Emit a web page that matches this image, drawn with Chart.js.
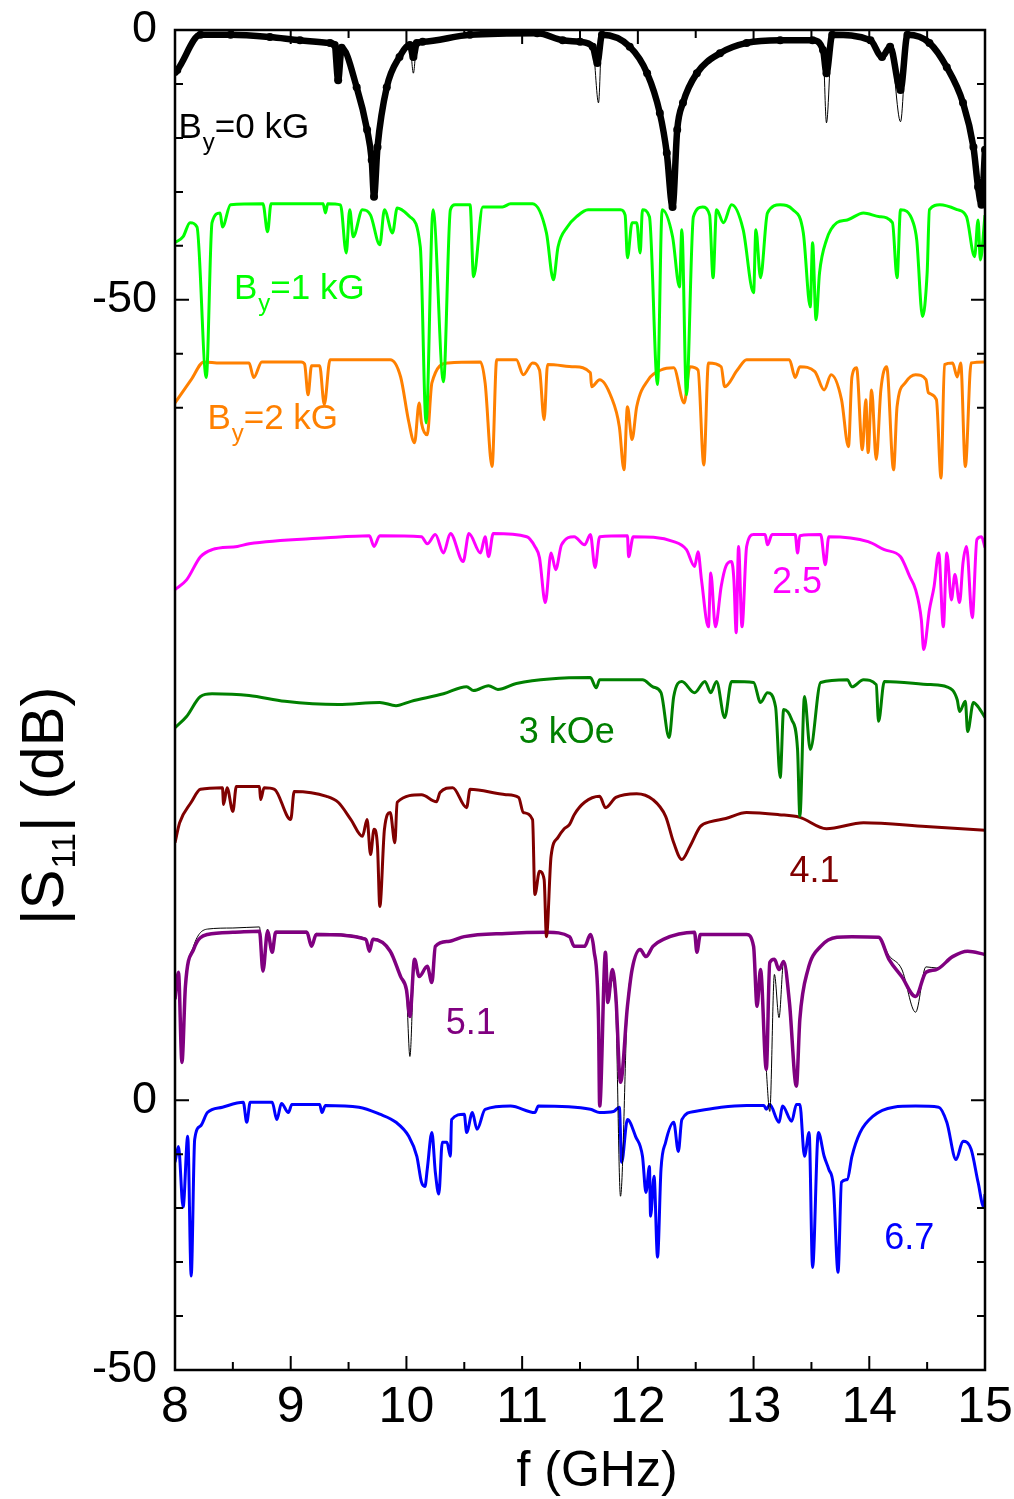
<!DOCTYPE html>
<html>
<head>
<meta charset="utf-8">
<title>|S11| spectra vs field</title>
<script src="https://cdn.jsdelivr.net/npm/chart.js@4.4.1/dist/chart.umd.min.js"></script>
<style>
  html, body { margin: 0; padding: 0; background: #fff; }
  #wrap { width: 1014px; height: 1499px; }
</style>
</head>
<body>
<div id="wrap"><canvas id="s11Chart" width="1014" height="1499"></canvas></div>
<script>
// x axis: frequency in GHz
const xMin = 8, xMax = 15;
const xTickVals = [8, 9, 10, 11, 12, 13, 14, 15];
const xMinorVals = [8.5, 9.5, 10.5, 11.5, 12.5, 13.5, 14.5];

// y axis: two stacked panels share one scale (lower panel's 0 sits at -198.3)
const yMin = -248.3, yMax = 0;
const yTickVals = [0, -50, -198.3, -248.3];
const yTickLabels = ["0", "-50", "0", "-50"];
const yMinorVals = [-10, -20, -30, -40, -60, -70, -208.3, -218.3, -228.3, -238.3];

// series, [f (GHz), |S11| as plotted (dB)]
const by0Thick = [[8.00,-7.8],[8.02,-7.4],[8.22,-0.9],[8.48,-0.9],[8.82,-1.3],[9.08,-1.9],[9.34,-2.4],[9.38,-2.8],[9.41,-9.3],[9.44,-3.3],[9.57,-10.6],[9.66,-18.5],[9.70,-24.1],[9.72,-30.9],[9.75,-21.7],[9.83,-10.6],[9.94,-5.0],[10.03,-2.8],[10.06,-5.0],[10.09,-2.4],[10.14,-2.2],[10.55,-0.9],[11.13,-0.6],[11.35,-1.9],[11.50,-2.2],[11.61,-3.1],[11.65,-6.1],[11.69,-0.9],[11.93,-3.1],[12.08,-8.0],[12.19,-15.4],[12.25,-22.8],[12.30,-32.8],[12.34,-18.5],[12.39,-13.5],[12.51,-8.0],[12.71,-4.3],[12.94,-2.4],[13.23,-1.9],[13.51,-1.9],[13.60,-3.7],[13.63,-8.0],[13.68,-0.9],[14.01,-1.9],[14.11,-5.0],[14.18,-3.1],[14.27,-11.1],[14.33,-0.9],[14.52,-2.4],[14.67,-6.9],[14.81,-13.5],[14.90,-21.7],[14.94,-29.1],[14.97,-32.4],[15.00,-22.2]];
const by0Thin = [[8.00,-7.8],[8.02,-7.4],[8.22,-0.9],[8.48,-0.9],[8.82,-1.3],[9.08,-1.9],[9.34,-2.4],[9.38,-2.8],[9.41,-9.3],[9.44,-3.3],[9.57,-10.6],[9.66,-18.5],[9.70,-24.1],[9.72,-30.9],[9.75,-21.7],[9.83,-10.6],[9.94,-5.0],[10.03,-2.8],[10.06,-8.0],[10.09,-2.4],[10.14,-2.2],[10.55,-0.9],[11.13,-0.6],[11.35,-1.9],[11.50,-2.2],[11.61,-3.1],[11.66,-13.5],[11.69,-0.9],[11.93,-3.1],[12.08,-8.0],[12.19,-15.4],[12.25,-22.8],[12.30,-32.8],[12.34,-18.5],[12.39,-13.5],[12.51,-8.0],[12.71,-4.3],[12.94,-2.4],[13.23,-1.9],[13.51,-1.9],[13.60,-3.7],[13.63,-17.2],[13.68,-0.9],[14.01,-1.9],[14.11,-5.0],[14.18,-3.1],[14.27,-17.0],[14.33,-0.9],[14.52,-2.4],[14.67,-6.9],[14.81,-13.5],[14.90,-21.7],[14.94,-29.1],[14.97,-32.4],[15.00,-22.2]];
const by1 = [[8.00,-39.4],[8.07,-38.3],[8.13,-35.7],[8.19,-36.5],[8.27,-64.4],[8.32,-35.7],[8.39,-33.9],[8.41,-36.5],[8.48,-32.4],[8.76,-32.2],[8.80,-37.4],[8.83,-32.2],[9.28,-32.2],[9.30,-33.9],[9.32,-32.2],[9.43,-32.4],[9.48,-41.3],[9.51,-33.3],[9.54,-38.3],[9.62,-33.3],[9.69,-34.3],[9.77,-39.8],[9.81,-33.3],[9.88,-37.6],[9.92,-33.0],[10.03,-34.6],[10.12,-40.2],[10.17,-72.8],[10.23,-33.3],[10.32,-65.2],[10.38,-33.3],[10.42,-32.4],[10.55,-32.4],[10.58,-45.7],[10.66,-32.8],[10.83,-32.8],[10.90,-32.2],[11.09,-32.2],[11.21,-37.6],[11.27,-46.3],[11.31,-40.2],[11.39,-36.5],[11.47,-34.6],[11.57,-33.3],[11.67,-33.3],[11.85,-33.3],[11.89,-34.3],[11.91,-42.2],[11.95,-35.7],[11.99,-35.7],[12.02,-41.3],[12.04,-33.3],[12.10,-34.6],[12.17,-65.7],[12.21,-33.3],[12.30,-38.3],[12.36,-47.6],[12.38,-37.0],[12.42,-67.6],[12.48,-34.6],[12.56,-32.8],[12.62,-34.3],[12.65,-45.9],[12.68,-33.3],[12.74,-35.7],[12.81,-32.4],[12.91,-37.0],[13.00,-48.7],[13.02,-37.0],[13.06,-45.9],[13.12,-33.9],[13.23,-32.4],[13.34,-33.3],[13.43,-37.6],[13.49,-51.3],[13.51,-39.4],[13.54,-53.7],[13.57,-45.0],[13.63,-38.9],[13.72,-35.7],[13.81,-35.2],[13.95,-33.9],[14.09,-34.6],[14.20,-35.7],[14.24,-45.9],[14.27,-33.3],[14.38,-35.7],[14.41,-38.9],[14.46,-53.1],[14.50,-45.0],[14.52,-33.3],[14.61,-32.4],[14.76,-33.3],[14.84,-34.6],[14.91,-42.0],[14.94,-35.2],[14.96,-42.6],[15.00,-34.3]];
const by2 = [[8.00,-69.1],[8.14,-64.8],[8.25,-61.5],[8.39,-61.7],[8.64,-61.7],[8.68,-64.4],[8.75,-61.5],[9.09,-61.5],[9.12,-61.9],[9.15,-67.6],[9.18,-62.2],[9.25,-62.2],[9.29,-69.4],[9.34,-61.1],[9.86,-61.1],[9.95,-64.3],[10.02,-72.6],[10.07,-76.5],[10.11,-69.1],[10.13,-72.8],[10.18,-75.0],[10.22,-65.4],[10.36,-61.7],[10.64,-61.5],[10.68,-65.4],[10.74,-80.9],[10.78,-61.1],[10.95,-61.1],[11.01,-63.9],[11.09,-61.7],[11.15,-63.0],[11.19,-72.2],[11.22,-62.0],[11.45,-62.4],[11.59,-63.5],[11.60,-66.1],[11.67,-64.8],[11.77,-68.0],[11.84,-73.5],[11.88,-81.5],[11.91,-69.8],[11.95,-75.9],[11.99,-69.8],[12.09,-64.8],[12.20,-63.0],[12.31,-62.6],[12.40,-69.1],[12.45,-62.4],[12.52,-63.0],[12.57,-80.6],[12.61,-61.7],[12.72,-62.4],[12.75,-66.1],[12.86,-63.0],[12.94,-61.1],[13.31,-61.1],[13.36,-64.4],[13.40,-62.4],[13.53,-63.3],[13.61,-66.7],[13.67,-63.9],[13.76,-68.5],[13.82,-77.2],[13.85,-64.3],[13.89,-62.6],[13.94,-77.8],[13.97,-68.5],[13.99,-78.3],[14.02,-66.7],[14.06,-79.6],[14.10,-66.7],[14.15,-62.4],[14.21,-81.5],[14.24,-69.8],[14.31,-65.4],[14.40,-63.9],[14.49,-64.8],[14.51,-67.2],[14.58,-68.5],[14.62,-83.0],[14.65,-62.0],[14.72,-61.7],[14.76,-64.3],[14.79,-61.7],[14.83,-80.9],[14.88,-61.7],[15.00,-61.5]];
const by25 = [[8.00,-103.7],[8.10,-101.9],[8.22,-97.6],[8.32,-96.3],[8.54,-95.7],[8.64,-95.2],[9.31,-94.1],[9.68,-93.7],[9.72,-95.7],[9.77,-93.7],[10.13,-93.9],[10.18,-95.2],[10.25,-93.5],[10.32,-96.9],[10.38,-93.3],[10.49,-98.5],[10.54,-93.3],[10.64,-96.9],[10.68,-93.9],[10.71,-97.6],[10.75,-93.3],[11.04,-93.9],[11.11,-95.7],[11.15,-97.8],[11.20,-106.1],[11.25,-96.9],[11.29,-100.0],[11.34,-95.4],[11.45,-93.9],[11.54,-95.4],[11.59,-93.5],[11.63,-99.6],[11.67,-93.9],[11.91,-93.7],[11.92,-97.6],[11.96,-93.9],[12.31,-94.8],[12.42,-96.3],[12.49,-99.4],[12.52,-96.7],[12.55,-101.9],[12.61,-110.6],[12.63,-100.6],[12.67,-110.6],[12.72,-103.1],[12.76,-99.4],[12.81,-98.5],[12.83,-101.9],[12.85,-111.7],[12.87,-95.7],[12.90,-110.6],[12.94,-95.7],[13.00,-93.5],[13.10,-93.5],[13.12,-95.4],[13.16,-93.5],[13.36,-93.5],[13.38,-96.9],[13.40,-93.7],[13.58,-93.5],[13.62,-99.1],[13.65,-93.9],[13.99,-94.8],[14.13,-96.3],[14.27,-97.6],[14.35,-101.3],[14.40,-103.7],[14.45,-109.3],[14.47,-114.8],[14.52,-107.4],[14.56,-103.1],[14.60,-96.9],[14.64,-110.6],[14.67,-96.9],[14.71,-105.6],[14.74,-100.9],[14.78,-106.1],[14.81,-98.7],[14.84,-95.7],[14.89,-108.9],[14.93,-94.4],[14.97,-93.9],[15.00,-95.9]];
const by3 = [[8.00,-129.3],[8.10,-127.2],[8.22,-123.5],[8.32,-123.0],[8.64,-123.3],[8.95,-124.4],[9.41,-125.0],[9.77,-124.6],[9.91,-125.2],[10.04,-124.4],[10.32,-123.0],[10.52,-121.7],[10.58,-122.4],[10.71,-121.5],[10.79,-122.2],[10.95,-121.1],[11.59,-120.0],[11.64,-121.9],[11.67,-120.4],[12.04,-120.4],[12.13,-121.7],[12.20,-122.8],[12.27,-131.1],[12.31,-123.5],[12.38,-120.7],[12.49,-122.8],[12.58,-120.7],[12.63,-122.8],[12.68,-120.7],[12.75,-127.4],[12.81,-120.7],[13.00,-120.9],[13.06,-124.6],[13.12,-122.8],[13.19,-125.4],[13.23,-138.5],[13.26,-125.9],[13.33,-127.8],[13.38,-133.3],[13.40,-145.7],[13.44,-123.5],[13.49,-133.3],[13.58,-120.9],[13.81,-120.4],[13.85,-121.7],[13.95,-120.4],[14.06,-121.3],[14.08,-128.1],[14.13,-120.7],[14.53,-121.3],[14.67,-121.7],[14.76,-124.1],[14.78,-126.3],[14.83,-124.4],[14.85,-130.0],[14.90,-124.6],[14.94,-125.4],[15.00,-127.4]];
const by41 = [[8.00,-150.6],[8.04,-146.9],[8.14,-143.1],[8.22,-140.7],[8.41,-140.4],[8.42,-143.5],[8.45,-140.4],[8.50,-144.8],[8.53,-140.2],[8.73,-140.2],[8.74,-142.6],[8.77,-140.4],[8.86,-140.7],[9.00,-146.3],[9.03,-141.1],[9.31,-142.0],[9.41,-143.1],[9.52,-146.3],[9.62,-149.4],[9.66,-146.3],[9.69,-152.8],[9.72,-148.1],[9.75,-151.3],[9.77,-162.4],[9.81,-148.1],[9.86,-145.0],[9.90,-150.6],[9.92,-143.1],[10.13,-141.7],[10.26,-143.0],[10.29,-141.3],[10.40,-140.4],[10.52,-144.1],[10.55,-140.7],[10.86,-141.7],[10.97,-142.2],[11.01,-145.0],[11.09,-146.3],[11.11,-160.2],[11.15,-155.9],[11.19,-157.4],[11.21,-168.0],[11.25,-153.1],[11.31,-149.6],[11.36,-148.1],[11.41,-147.2],[11.45,-145.4],[11.54,-143.1],[11.67,-142.0],[11.72,-144.1],[11.81,-142.2],[11.99,-141.5],[12.13,-142.6],[12.24,-145.7],[12.31,-150.6],[12.38,-153.7],[12.45,-151.3],[12.54,-147.6],[12.63,-146.7],[12.76,-146.1],[12.94,-145.0],[13.22,-145.4],[13.40,-145.9],[13.63,-148.0],[13.95,-146.9],[14.49,-147.6],[15.00,-148.3]];
const by51 = [[8.00,-179.6],[8.03,-174.6],[8.06,-191.3],[8.09,-177.2],[8.16,-170.4],[8.28,-167.6],[8.50,-167.2],[8.73,-167.0],[8.76,-174.4],[8.80,-167.0],[8.84,-170.9],[8.87,-167.2],[9.14,-167.2],[9.18,-169.8],[9.22,-167.6],[9.65,-168.5],[9.68,-170.7],[9.71,-168.5],[9.86,-170.7],[9.95,-175.4],[10.00,-177.8],[10.03,-182.8],[10.07,-172.2],[10.11,-175.4],[10.18,-173.5],[10.22,-176.5],[10.25,-169.8],[10.36,-168.9],[10.50,-168.0],[10.86,-167.4],[11.22,-167.2],[11.41,-168.0],[11.45,-169.8],[11.54,-169.8],[11.59,-167.6],[11.62,-170.4],[11.66,-183.3],[11.67,-199.4],[11.72,-170.9],[11.74,-180.2],[11.78,-174.1],[11.81,-179.1],[11.85,-195.0],[11.91,-180.9],[11.95,-174.1],[12.02,-170.4],[12.07,-171.7],[12.13,-169.8],[12.22,-168.5],[12.49,-167.2],[12.51,-170.9],[12.54,-167.6],[12.94,-167.6],[13.00,-169.8],[13.03,-180.9],[13.06,-174.1],[13.11,-192.6],[13.14,-172.8],[13.18,-172.2],[13.22,-174.1],[13.26,-172.6],[13.31,-180.2],[13.37,-195.7],[13.40,-183.3],[13.47,-174.1],[13.58,-169.8],[13.72,-168.1],[13.85,-168.0],[14.08,-168.1],[14.17,-172.2],[14.28,-175.4],[14.40,-179.1],[14.49,-174.6],[14.58,-174.1],[14.72,-171.7],[14.85,-170.7],[15.00,-171.3]];
const by51Ref = [[8.00,-179.6],[8.03,-174.6],[8.06,-191.3],[8.09,-177.2],[8.16,-169.8],[8.28,-166.6],[8.50,-166.4],[8.73,-166.2],[8.76,-174.4],[8.80,-166.6],[8.84,-170.9],[8.87,-167.0],[9.14,-167.0],[9.18,-169.8],[9.22,-167.4],[9.65,-168.3],[9.68,-170.7],[9.71,-168.3],[9.86,-170.7],[9.95,-175.4],[10.00,-178.5],[10.03,-190.2],[10.07,-172.2],[10.11,-175.4],[10.18,-173.5],[10.22,-176.5],[10.25,-169.8],[10.36,-168.9],[10.50,-168.0],[10.86,-167.4],[11.22,-167.2],[11.41,-168.0],[11.45,-169.8],[11.54,-169.8],[11.59,-167.6],[11.62,-170.4],[11.66,-183.3],[11.67,-199.4],[11.72,-172.0],[11.74,-180.2],[11.78,-176.0],[11.81,-182.0],[11.85,-216.1],[11.91,-180.9],[11.95,-174.1],[12.02,-170.4],[12.07,-171.7],[12.13,-169.8],[12.22,-168.5],[12.49,-167.2],[12.51,-170.9],[12.54,-167.6],[12.94,-167.6],[13.00,-169.8],[13.03,-180.9],[13.06,-174.1],[13.11,-192.6],[13.14,-200.4],[13.18,-175.0],[13.22,-183.0],[13.26,-172.6],[13.31,-180.2],[13.37,-195.7],[13.40,-183.3],[13.47,-174.1],[13.58,-169.8],[13.72,-168.1],[13.85,-168.0],[14.08,-168.1],[14.17,-171.5],[14.28,-174.0],[14.40,-182.0],[14.49,-173.6],[14.58,-173.8],[14.72,-171.7],[14.85,-170.7],[15.00,-171.3]];
const by67 = [[8.00,-209.8],[8.03,-206.9],[8.07,-218.1],[8.11,-205.0],[8.14,-230.9],[8.17,-205.6],[8.22,-203.1],[8.28,-200.6],[8.41,-199.6],[8.59,-198.7],[8.62,-202.4],[8.65,-198.7],[8.84,-198.7],[8.88,-201.9],[8.92,-198.9],[8.98,-200.6],[9.01,-199.1],[9.25,-199.1],[9.27,-200.6],[9.30,-199.3],[9.59,-199.6],[9.77,-200.9],[9.91,-202.4],[10.02,-205.0],[10.09,-208.7],[10.13,-213.5],[10.16,-214.3],[10.18,-211.1],[10.22,-204.3],[10.25,-211.7],[10.28,-215.7],[10.31,-206.1],[10.35,-206.1],[10.38,-208.7],[10.39,-201.9],[10.50,-200.9],[10.52,-204.3],[10.57,-200.6],[10.61,-203.7],[10.68,-200.0],[10.90,-199.4],[11.11,-200.6],[11.14,-199.4],[11.59,-200.0],[11.67,-200.6],[11.79,-200.4],[11.84,-199.6],[11.86,-209.8],[11.91,-201.9],[11.98,-205.0],[12.04,-208.7],[12.07,-215.4],[12.10,-210.6],[12.11,-219.8],[12.14,-212.4],[12.17,-227.4],[12.20,-211.1],[12.24,-206.1],[12.31,-202.4],[12.35,-207.8],[12.38,-201.9],[12.49,-200.4],[12.72,-199.6],[12.94,-199.3],[13.09,-199.3],[13.11,-200.0],[13.14,-199.1],[13.22,-202.4],[13.25,-199.4],[13.33,-202.2],[13.37,-199.1],[13.40,-199.1],[13.44,-208.7],[13.48,-204.3],[13.51,-229.3],[13.56,-204.3],[13.61,-208.7],[13.65,-211.1],[13.69,-214.3],[13.73,-230.2],[13.76,-213.5],[13.81,-213.0],[13.85,-208.7],[13.92,-204.3],[14.03,-201.3],[14.21,-199.6],[14.40,-199.4],[14.60,-199.6],[14.67,-202.4],[14.75,-209.3],[14.81,-205.9],[14.88,-207.4],[14.94,-213.5],[14.99,-218.1],[15.00,-215.7]];

// curve labels, anchored in data units (left edge, baseline)
const curveLabels = [
  { pre: "B", sub: "y", post: "=0 kG", f: 8.03, db: -20.0, color: "#000000" },
  { pre: "B", sub: "y", post: "=1 kG", f: 8.51, db: -49.8, color: "#00ff00" },
  { pre: "B", sub: "y", post: "=2 kG", f: 8.28, db: -73.9, color: "#ff8000" },
  { pre: "2.5", f: 13.16, db: -104.4, color: "#ff00ff" },
  { pre: "3 kOe", f: 10.97, db: -132.2, color: "#008000" },
  { pre: "4.1", f: 13.31, db: -157.8, color: "#800000" },
  { pre: "5.1", f: 10.34, db: -186.1, color: "#800080" },
  { pre: "6.7", f: 14.13, db: -225.9, color: "#0000ff" }
];

const FONT = '"Liberation Sans", Arial, sans-serif';

// first entry is drawn on top
const series = [
  { data: by0Thick, color: "#000000", width: 6.5, dots: true },
  { data: by0Thin, color: "#000000", width: 1 },
  { data: by1, color: "#00ff00", width: 3 },
  { data: by2, color: "#ff8000", width: 3 },
  { data: by25, color: "#ff00ff", width: 3 },
  { data: by3, color: "#008000", width: 3 },
  { data: by41, color: "#800000", width: 3 },
  { data: by51, color: "#800080", width: 3.5 },
  { data: by51Ref, color: "#000000", width: 1 },
  { data: by67, color: "#0000ff", width: 3 }
];

const datasets = series.map((s, i) => ({
  data: s.data.map(p => ({ x: p[0], y: p[1] })),
  borderColor: s.color,
  backgroundColor: s.color,
  borderWidth: s.width,
  pointRadius: s.dots ? 4 : 0,
  pointBorderWidth: 0,
  borderJoinStyle: "round",
  cubicInterpolationMode: "monotone",
  fill: false,
  order: i
}));

// tick labels must not push the plot area around
function noPad(s) {
  s.paddingTop = 0; s.paddingBottom = 0; s.paddingLeft = 0; s.paddingRight = 0;
}

// axis frame, inward ticks, titles and curve labels
const decor = {
  id: "decor",
  afterDatasetsDraw(chart) {
    const { ctx, chartArea: a, scales: { x, y } } = chart;
    ctx.save();
    ctx.strokeStyle = "#000";
    ctx.lineWidth = 2.5;
    ctx.strokeRect(a.left, a.top, a.right - a.left, a.bottom - a.top);

    ctx.lineWidth = 2;
    ctx.beginPath();
    xTickVals.concat(xMinorVals).forEach(v => {
      const px = x.getPixelForValue(v);
      const len = xTickVals.includes(v) ? 14 : 8;
      ctx.moveTo(px, a.bottom); ctx.lineTo(px, a.bottom - len);
      ctx.moveTo(px, a.top); ctx.lineTo(px, a.top + len);
    });
    yTickVals.concat(yMinorVals).forEach(v => {
      const py = y.getPixelForValue(v);
      const len = yTickVals.includes(v) ? 14 : 8;
      ctx.moveTo(a.left, py); ctx.lineTo(a.left + len, py);
      ctx.moveTo(a.right, py); ctx.lineTo(a.right - len, py);
    });
    ctx.stroke();

    // curve labels
    ctx.textBaseline = "alphabetic";
    ctx.textAlign = "left";
    curveLabels.forEach(l => {
      let px = x.getPixelForValue(l.f);
      const py = y.getPixelForValue(l.db);
      const big = l.sub ? 35 : 36;
      ctx.fillStyle = l.color;
      ctx.font = big + "px " + FONT;
      ctx.fillText(l.pre, px, py);
      px += ctx.measureText(l.pre).width;
      if (l.sub) {
        ctx.font = "24px " + FONT;
        ctx.fillText(l.sub, px + 1, py + 12);
        px += ctx.measureText(l.sub).width + 1;
        ctx.font = big + "px " + FONT;
        ctx.fillText(l.post, px, py);
      }
    });

    // x title
    ctx.fillStyle = "#000";
    ctx.font = "50px " + FONT;
    ctx.textAlign = "center";
    ctx.fillText("f (GHz)", 597, 1486);

    // y title, rotated, with subscript 11
    ctx.translate(63, 925);
    ctx.rotate(-Math.PI / 2);
    ctx.textAlign = "left";
    let tx = 0;
    ctx.font = "60px " + FONT;
    ctx.fillText("|S", tx, 0);
    tx += ctx.measureText("|S").width;
    ctx.font = "34px " + FONT;
    ctx.fillText("11", tx + 1, 12);
    tx += ctx.measureText("11").width + 2;
    ctx.font = "60px " + FONT;
    ctx.fillText("| (dB)", tx, 0);
    ctx.restore();
  }
};

new Chart(document.getElementById("s11Chart"), {
  type: "line",
  data: { datasets: datasets },
  options: {
    responsive: false,
    animation: false,
    events: [],
    layout: { padding: { top: 30, right: 29, left: 0, bottom: 0 } },
    plugins: { legend: { display: false }, tooltip: { enabled: false } },
    scales: {
      x: {
        type: "linear",
        min: xMin,
        max: xMax,
        grid: { display: false, drawTicks: false },
        border: { display: false },
        afterBuildTicks: s => { s.ticks = xTickVals.map(v => ({ value: v })); },
        afterFit: s => { s.height = 129; noPad(s); },
        ticks: {
          autoSkip: false,
          maxRotation: 0,
          padding: 8,
          color: "#000",
          font: { family: '"Liberation Sans Narrow", "Liberation Sans", Arial', size: 50 }
        }
      },
      y: {
        type: "linear",
        min: yMin,
        max: yMax,
        grid: { display: false, drawTicks: false },
        border: { display: false },
        afterBuildTicks: s => { s.ticks = yTickVals.map(v => ({ value: v })); },
        afterFit: s => { s.width = 175; noPad(s); },
        ticks: {
          autoSkip: false,
          padding: 18,
          color: "#000",
          font: { family: FONT, size: 45 },
          callback: v => {
            const i = yTickVals.indexOf(v);
            return i >= 0 ? yTickLabels[i] : "";
          }
        }
      }
    }
  },
  plugins: [decor]
});
</script>
</body>
</html>
